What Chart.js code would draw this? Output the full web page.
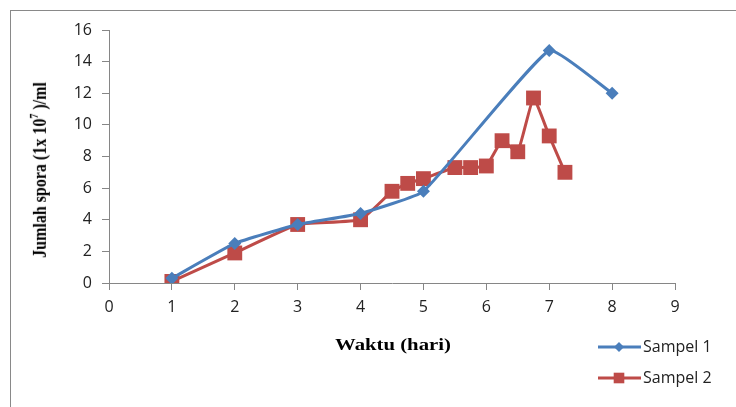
<!DOCTYPE html>
<html lang="id">
<head>
  <meta charset="UTF-8" />
  <title>Jumlah spora</title>
  <style>
    body { margin: 0; width: 736px; height: 407px; overflow: hidden; background: #fff; position: relative; }
    #frame { position: absolute; left: 10px; top: 10px; width: 800px; height: 500px; border: 1px solid #898989; }
    canvas { position: absolute; left: 0; top: 0; }
    .title { position: absolute; font-family: "Liberation Serif", serif; font-weight: bold; color: #000; white-space: nowrap; }
    #xtitle { left: 393px; top: 345px; font-size: 17px; transform: translate(-50%, -50%) scaleX(1.22); }
    #ytitle { left: 39px; top: 170px; font-size: 16px; transform: translate(-50%, -50%) rotate(-90deg) scaleY(1.15); }
    #ytitle sup { font-size: 10px; }
  </style>
</head>
<body>
  <div id="frame"></div>
  <canvas id="chart" width="736" height="407"></canvas>
  <div class="title" id="ytitle">Jumlah spora (1x 10<sup>7</sup> )/ml</div>
  <div class="title" id="xtitle">Waktu (hari)</div>

  <script src="https://cdn.jsdelivr.net/npm/chart.js@4.4.1/dist/chart.umd.min.js"></script>
  <script>
    // data
    const seriesNames = ['Sampel 1', 'Sampel 2'];
    const sampel1X = [1, 2, 3, 4, 5, 7, 8];
    const sampel1Y = [0.3, 2.5, 3.7, 4.4, 5.8, 14.7, 12.0];
    const sampel2X = [1, 2, 3, 4, 4.5, 4.75, 5, 5.5, 5.75, 6, 6.25, 6.5, 6.75, 7, 7.25];
    const sampel2Y = [0.1, 1.9, 3.7, 4.0, 5.8, 6.3, 6.6, 7.3, 7.3, 7.4, 9.0, 8.3, 11.7, 9.3, 7.0];
    const xTicks = [0, 1, 2, 3, 4, 5, 6, 7, 8, 9];
    const yTicks = [0, 2, 4, 6, 8, 10, 12, 14, 16];

    const blue = '#4A7EBB';
    const red = '#BE4B48';
    const axisGray = '#868686';
    const tickFont = { family: '"Open Sans", sans-serif', size: 16 };

    const toPoints = (xs, ys) => xs.map((x, i) => ({ x: x, y: ys[i] }));

    // legend drawn in the lower right, like the original
    const legendPlugin = {
      id: 'sideLegend',
      afterDraw(chart) {
        const ctx = chart.ctx;
        const rows = [347, 378];
        chart.data.datasets.forEach((ds, i) => {
          const y = rows[i];
          ctx.save();
          ctx.strokeStyle = ds.borderColor;
          ctx.lineWidth = 3;
          ctx.beginPath();
          ctx.moveTo(598, y);
          ctx.lineTo(641, y);
          ctx.stroke();
          ctx.fillStyle = ds.borderColor;
          Chart.helpers.drawPoint(ctx, {
            pointStyle: ds.pointStyle,
            radius: i === 0 ? 5 : 7.5,
            borderWidth: 0
          }, 619, y);
          ctx.fillStyle = '#222';
          ctx.font = '16px "Open Sans", sans-serif';
          ctx.textBaseline = 'middle';
          ctx.fillText(seriesNames[i], 643, y);
          ctx.restore();
        });
      }
    };

    new Chart(document.getElementById('chart'), {
      type: 'line',
      data: {
        datasets: [
          {
            label: seriesNames[0],
            data: toPoints(sampel1X, sampel1Y),
            borderColor: blue,
            backgroundColor: blue,
            borderWidth: 3,
            pointStyle: 'rectRot',
            pointRadius: 6.5,
            pointBorderWidth: 0,
            tension: 0.12
          },
          {
            label: seriesNames[1],
            data: toPoints(sampel2X, sampel2Y),
            borderColor: red,
            backgroundColor: red,
            borderWidth: 3,
            pointStyle: 'rect',
            pointRadius: 10.5,
            pointBorderWidth: 0,
            tension: 0.12
          }
        ]
      },
      options: {
        responsive: false,
        animation: false,
        devicePixelRatio: 1,
        layout: { padding: { left: 0, top: 30, right: 61, bottom: 0 } },
        plugins: { legend: { display: false }, tooltip: { enabled: false } },
        scales: {
          x: {
            type: 'linear',
            min: 0, max: 9,
            afterBuildTicks: s => { s.ticks = xTicks.map(v => ({ value: v })); },
            afterFit: s => { s.height = 124; },
            grid: { drawOnChartArea: false, color: axisGray, tickLength: 7 },
            border: { color: axisGray, width: 1 },
            ticks: { color: '#222', font: tickFont, padding: 8, maxRotation: 0 }
          },
          y: {
            min: 0, max: 16,
            afterBuildTicks: s => { s.ticks = yTicks.map(v => ({ value: v })); },
            afterFit: s => { s.width = 109; },
            grid: { drawOnChartArea: false, color: axisGray, tickLength: 7 },
            border: { color: axisGray, width: 1 },
            ticks: { color: '#222', font: tickFont, padding: 10 }
          }
        }
      },
      plugins: [legendPlugin]
    });
  </script>
</body>
</html>
